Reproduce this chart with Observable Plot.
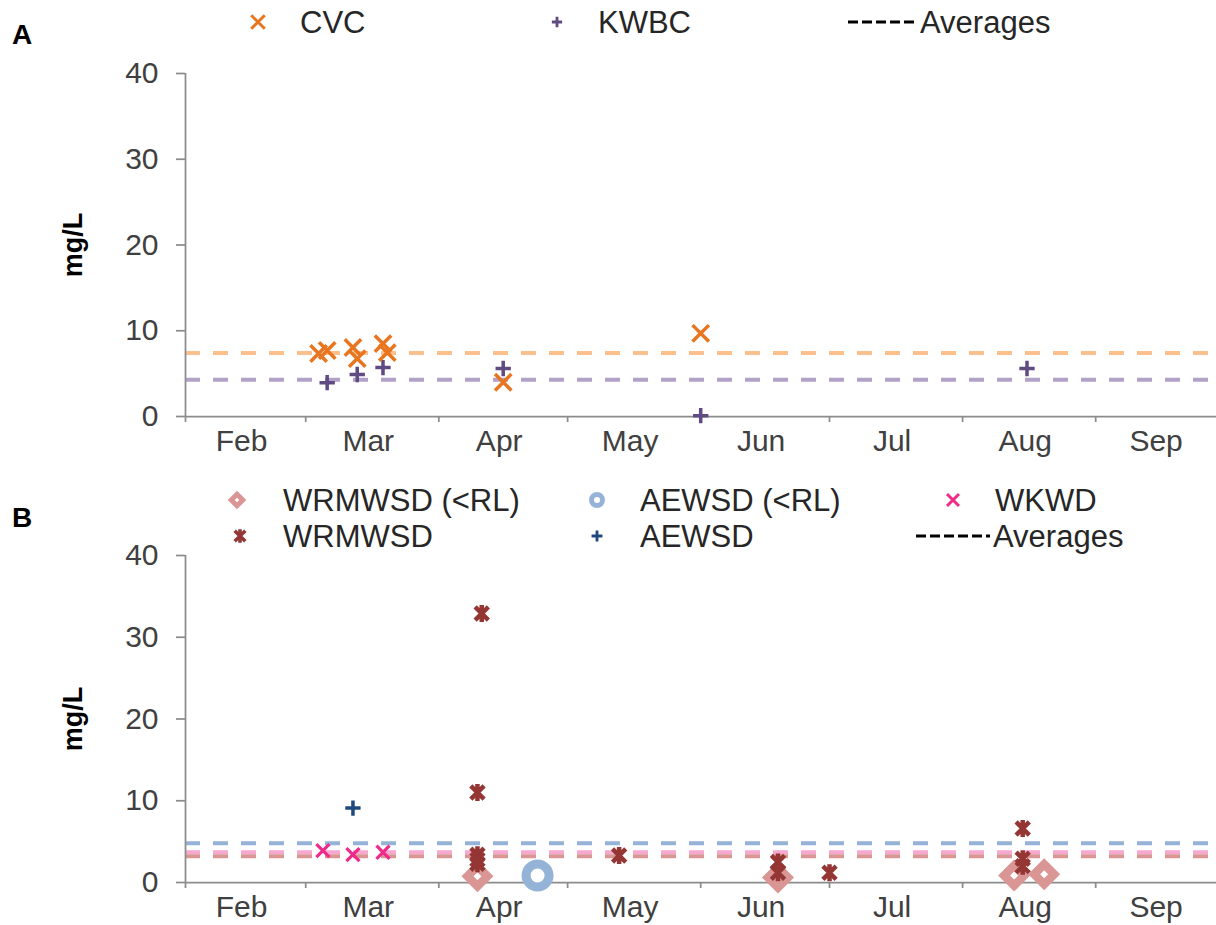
<!DOCTYPE html>
<html>
<head>
<meta charset="utf-8">
<script src="https://cdn.jsdelivr.net/npm/d3@7"></script>
<script src="https://cdn.jsdelivr.net/npm/@observablehq/plot@0.6"></script>
<style>
  html, body { margin: 0; padding: 0; background: #fff; overflow: hidden; }
  #chart { position: relative; width: 1216px; height: 925px; overflow: hidden;
           font-family: "Liberation Sans", Arial, sans-serif; }
  #chart > svg.panel { position: absolute; left: 0; max-width: none; }
  .tag { position: absolute; left: 12px; font-weight: bold; font-size: 28px; line-height: 1;
         color: #000; transform: translateY(-50%); }
  .key { position: absolute; font-size: 31px; line-height: 1; color: #262626; white-space: nowrap;
         transform: translateY(-50%); }
  .sw { position: absolute; overflow: visible; }
</style>
</head>
<body>
<div id="chart"></div>
<script>
// ---- Data: sampling dates (YYYY-MM-DD) and concentrations (mg/L) ----
const months = ["Feb", "Mar", "Apr", "May", "Jun", "Jul", "Aug", "Sep"];
const yTicks = [0, 10, 20, 30, 40];

// Panel A
const cvcDates   = ["2019-03-04", "2019-03-06", "2019-03-12", "2019-03-13", "2019-03-19", "2019-03-20", "2019-04-16", "2019-06-01"];
const cvcValues  = [7.35, 7.7, 8.05, 6.75, 8.5, 7.45, 4.0, 9.7];
const kwbcDates  = ["2019-03-06", "2019-03-13", "2019-03-19", "2019-04-16", "2019-06-01", "2019-08-16"];
const kwbcValues = [3.95, 4.9, 5.7, 5.6, 0.1, 5.6];
const averagesA  = {CVC: 7.4, KWBC: 4.3};

// Panel B
const wrmwsdRlDates  = ["2019-04-10", "2019-06-19", "2019-08-13", "2019-08-20"];
const wrmwsdRlValues = [0.75, 0.6, 0.85, 1.0];
const aewsdRlDates   = ["2019-04-24"];
const aewsdRlValues  = [0.85];
const wkwdDates      = ["2019-03-05", "2019-03-12", "2019-03-19"];
const wkwdValues     = [3.9, 3.4, 3.7];
const wrmwsdDates    = ["2019-04-10", "2019-04-10", "2019-04-10", "2019-04-10", "2019-04-11", "2019-05-13",
                        "2019-06-19", "2019-06-19", "2019-07-01", "2019-08-15", "2019-08-15", "2019-08-15"];
const wrmwsdValues   = [3.4, 2.8, 2.3, 11.0, 32.9, 3.3, 2.5, 1.2, 1.2, 6.6, 2.9, 2.0];
const aewsdDates     = ["2019-03-12"];
const aewsdValues    = [9.1];
const averagesB      = {AEWSD: 4.8, WKWD: 3.7, WRMWSD: 3.2};

// ---- Colours ----
const C = {
  orange: "#E8751F", orangeAvg: "#FCBF8E",
  purple: "#5F4A82", purpleAvg: "#B3A2C7",
  salmon: "#D99694", lightBlue: "#95B3D7", pink: "#EE2A8A", pinkAvg: "#F7A8D0",
  darkRed: "#943634", navy: "#1F497D",
  axis: "#8c8c8c", tickText: "#404040"
};

const parse = d3.utcParse("%Y-%m-%d");
const monthStarts = d3.utcMonths(parse("2019-02-01"), parse("2019-10-02"));
const monthTicks = months.map((label, i) => ({label, date: new Date((+monthStarts[i] + +monthStarts[i + 1]) / 2)}));
const rows = (dates, values) => dates.map((d, i) => ({date: parse(d), value: values[i]}));

// Excel-style "star" marker: a cross with a vertical bar through it
const star = {
  draw(ctx, size) {
    const r = Math.sqrt(size / Math.PI);
    const a = r * 0.78;
    ctx.moveTo(-a, -a); ctx.lineTo(a, a);
    ctx.moveTo(-a, a); ctx.lineTo(a, -a);
    ctx.moveTo(0, -r); ctx.lineTo(0, r);
  }
};

// Axes, month labels and the y label shared by both panels
function frame() {
  return [
    Plot.ruleX([monthStarts[0]], {y1: 0, y2: 40, stroke: C.axis, strokeWidth: 1.75}),
    Plot.ruleY([0], {stroke: C.axis, strokeWidth: 1.75}),
    Plot.axisY({ticks: yTicks, tickSize: 9, tickPadding: 18, stroke: C.axis, strokeWidth: 1.75,
                fill: C.tickText, label: null}),
    Plot.axisX({ticks: monthStarts, tickSize: 6, tickFormat: () => "", stroke: C.axis, strokeWidth: 1.75, label: null}),
    Plot.text(monthTicks, {x: "date", frameAnchor: "bottom", text: "label", dx: -4, dy: 34, fill: C.tickText}),
    Plot.text(["mg/L"], {frameAnchor: "left", dx: -112, rotate: -90, textAnchor: "middle",
                         fontWeight: "bold", fontSize: 27, fill: "#000"})
  ];
}

const common = {
  width: 1240, marginLeft: 185, marginRight: 16,
  x: {type: "utc", domain: [monthStarts[0], monthStarts[monthStarts.length - 1]]},
  y: {domain: [0, 40]},
  style: {fontFamily: '"Liberation Sans", Arial, sans-serif', fontSize: "30px", background: "transparent",
          overflow: "visible", maxWidth: "none"}
};

const dash = {strokeWidth: 4, strokeDasharray: "15,13"};
const chart = document.getElementById("chart");

// Panel A
const svgA = Plot.plot({
  ...common, height: 470, marginTop: 73, marginBottom: 54,
  marks: [
    Plot.ruleY([averagesA.CVC], {stroke: C.orangeAvg, ...dash}),
    Plot.ruleY([averagesA.KWBC], {stroke: C.purpleAvg, ...dash}),
    ...frame(),
    Plot.dot(rows(kwbcDates, kwbcValues), {x: "date", y: "value", symbol: "plus", r: 5, stroke: C.purple, strokeWidth: 3.5}),
    Plot.dot(rows(cvcDates, cvcValues), {x: "date", y: "value", symbol: "times", r: 7.5, stroke: C.orange, strokeWidth: 3.5})
  ]
});
svgA.classList.add("panel");
svgA.style.top = "0px";
chart.appendChild(svgA);

// Panel B
const svgB = Plot.plot({
  ...common, height: 455, marginTop: 85, marginBottom: 43,
  marks: [
    Plot.ruleY([averagesB.AEWSD], {stroke: C.lightBlue, ...dash}),
    Plot.ruleY([averagesB.WKWD], {stroke: C.pinkAvg, ...dash}),
    Plot.ruleY([averagesB.WRMWSD], {stroke: C.salmon, ...dash}),
    ...frame(),
    Plot.dot(rows(wrmwsdRlDates, wrmwsdRlValues), {x: "date", y: "value", symbol: "diamond2", r: 9, stroke: C.salmon, strokeWidth: 8.5, fill: "#fff"}),
    Plot.dot(rows(aewsdRlDates, aewsdRlValues), {x: "date", y: "value", r: 11.5, stroke: C.lightBlue, strokeWidth: 9, fill: "#fff"}),
    Plot.dot(rows(wkwdDates, wkwdValues), {x: "date", y: "value", symbol: "times", r: 6, stroke: C.pink, strokeWidth: 3.2}),
    Plot.dot(rows(wrmwsdDates, wrmwsdValues), {x: "date", y: "value", symbol: star, r: 8.5, stroke: C.darkRed, strokeWidth: 4.5}),
    Plot.dot(rows(aewsdDates, aewsdValues), {x: "date", y: "value", symbol: "plus", r: 5, stroke: C.navy, strokeWidth: 3.5})
  ]
});
svgB.classList.add("panel");
svgB.style.top = "470px";
chart.appendChild(svgB);

// ---- Panel tags and legends ----
function tag(text, y) {
  const d = document.createElement("div");
  d.className = "tag"; d.textContent = text; d.style.top = y + "px";
  chart.appendChild(d);
}
function label(text, x, y) {
  const d = document.createElement("div");
  d.className = "key"; d.textContent = text;
  d.style.left = x + "px"; d.style.top = y + "px";
  chart.appendChild(d);
}
function swatch(cx, cy, draw) {
  const s = d3.select(chart).append("svg").attr("class", "sw")
    .attr("width", 40).attr("height", 40)
    .style("left", (cx - 20) + "px").style("top", (cy - 20) + "px");
  draw(s.append("g").attr("transform", "translate(20,20)"));
}
const sym = (type, r) => d3.symbol(type, Math.PI * r * r)();
const symbolKey = (type, r, stroke, sw, fill = "none") => g =>
  g.append("path").attr("d", sym(type, r)).attr("stroke", stroke).attr("stroke-width", sw).attr("fill", fill);
const circleKey = (r, stroke, sw) => g =>
  g.append("circle").attr("r", r).attr("stroke", stroke).attr("stroke-width", sw).attr("fill", "#fff");
function averagesKey(x0, x1, y) {
  const s = d3.select(chart).append("svg").attr("class", "sw")
    .attr("width", x1 - x0).attr("height", 10)
    .style("left", x0 + "px").style("top", (y - 5) + "px");
  s.append("line").attr("x1", 0).attr("x2", x1 - x0).attr("y1", 5).attr("y2", 5)
    .attr("stroke", "#000").attr("stroke-width", 3).attr("stroke-dasharray", "10,4");
}

tag("A", 35);
tag("B", 518);

// Panel A legend
swatch(258, 22, symbolKey(d3.symbolTimes, 6.2, C.orange, 3));
label("CVC", 300, 22);
swatch(557, 22, symbolKey(d3.symbolPlus, 3.4, C.purple, 2.8));
label("KWBC", 598, 22);
averagesKey(848, 918, 22);
label("Averages", 920, 22);

// Panel B legend
swatch(237, 500, symbolKey(d3.symbolDiamond2, 5.2, C.salmon, 5, "#fff"));
label("WRMWSD (<RL)", 283, 500);
swatch(597, 500, circleKey(5.5, C.lightBlue, 5));
label("AEWSD (<RL)", 640, 500);
swatch(953, 500, symbolKey(d3.symbolTimes, 5.5, C.pink, 3));
label("WKWD", 995, 500);
swatch(240, 536, symbolKey(star, 6.8, C.darkRed, 3.5));
label("WRMWSD", 283, 536);
swatch(597, 536, symbolKey(d3.symbolPlus, 3.6, C.navy, 2.8));
label("AEWSD", 640, 536);
averagesKey(916, 990, 536);
label("Averages", 993, 536);
</script>
</body>
</html>
